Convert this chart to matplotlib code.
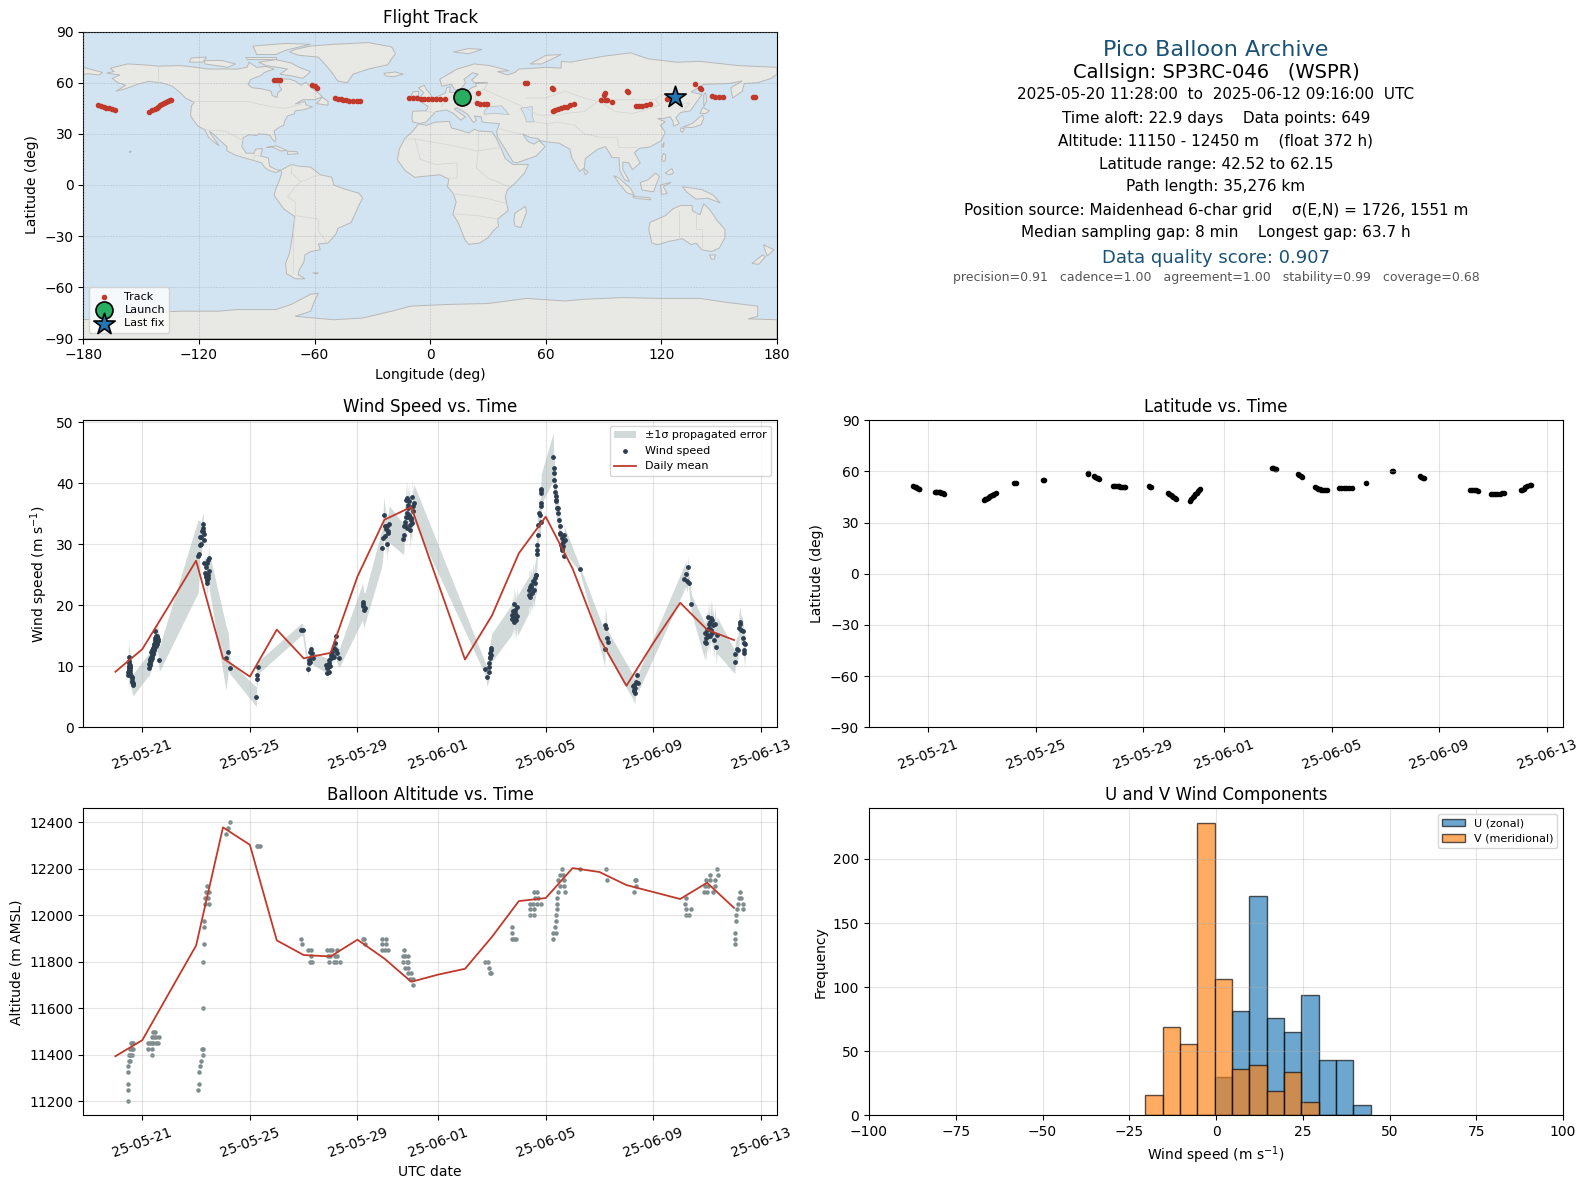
import datetime as dt

import matplotlib
matplotlib.use('Agg')
import matplotlib.dates as mdates
import matplotlib.pyplot as plt
import numpy as np

FIG_W, FIG_H = 1587, 1189

# all times are days after 2025-05-20 00:00 UTC
daily_t = list(range(24))
daily_wind = [9.1, 12.8, 20.0, 27.3, 11.3, 8.3, 16.0, 11.3, 12.2, 24.7, 34.0, 36.1,
              23.6, 11.1, 18.3, 28.5, 34.5, 26.0, 14.6, 6.8, 13.8, 20.4, 16.0, 14.3]
daily_alt = [11394, 11463, 11667, 11870, 12378, 12303, 11892, 11829, 11823, 11895, 11814, 11714,
             11745, 11770, 11907, 12061, 12074, 12203, 12186, 12130, 12100, 12070, 12140, 12032]

wind_t = [.48, .48, .49, .49, .5, .5, .51, .51, .52, .52, .53, .53, .54, .55, .56, .58, .6, .61, .62, .63, .64, .65, .66,
          1.24, 1.26, 1.27, 1.28, 1.29, 1.3, 1.31, 1.33, 1.34, 1.35, 1.36, 1.37, 1.38, 1.39, 1.4, 1.41, 1.42, 1.43, 1.44, 1.45,
          1.46, 1.47, 1.48, 1.49, 1.5, 1.51, 1.52, 1.53, 1.54, 1.55, 1.56, 1.57, 1.58, 1.63,
          3.08, 3.09, 3.14, 3.13, 3.17, 3.19, 3.22, 3.24, 3.27, 3.27, 3.28, 3.31,
          3.29, 3.33, 3.35, 3.36, 3.38, 3.39, 3.4, 3.42, 3.43, 3.44, 3.45, 3.49, 3.49,
          4.11, 4.2, 4.27, 5.24, 5.25, 5.28, 5.31, 6.9, 6.96,
          7.17, 7.2, 7.21, 7.23, 7.25, 7.27, 7.28, 7.3, 7.33,
          7.83, 7.86, 7.88, 7.9, 7.93, 7.94, 7.96, 7.98, 8.0, 8.03, 8.04, 8.07, 8.1, 8.13, 8.14, 8.16, 8.19, 8.21, 8.24, 8.32,
          9.19, 9.2, 9.22, 9.23, 9.28,
          9.9, 9.95, 9.97, 10.03, 10.04, 10.07, 10.08, 10.1, 10.12, 10.14, 10.18,
          10.71, 10.73, 10.74, 10.76, 10.78, 10.8, 10.81, 10.83, 10.84, 10.85, 10.87, 10.87, 10.89, 10.9, 10.93, 10.95, 10.96,
          10.98, 11.0, 11.02, 11.04, 11.06, 11.08, 11.1,
          13.76, 13.82, 13.88, 13.89, 13.89, 13.92, 13.93, 13.94, 13.95, 13.96, 13.98,
          14.75, 14.75, 14.77, 14.79, 14.81, 14.83, 14.85, 14.85, 14.87, 14.9, 14.93, 14.95,
          15.37, 15.38, 15.41, 15.42, 15.47, 15.47, 15.49, 15.53, 15.56, 15.59, 15.62, 15.63, 15.65,
          15.66, 15.67, 15.68, 15.7, 15.72, 15.76, 15.77, 15.81, 15.82, 15.84, 15.81, 15.81, 15.83,
          16.28, 16.29, 16.3, 16.32, 16.33, 16.35, 16.37, 16.39, 16.4, 16.41, 16.44, 16.46, 16.49, 16.52, 16.53, 16.54, 16.56,
          16.59, 16.6, 16.61, 16.62, 16.63, 16.65, 16.68, 16.69, 16.71,
          17.27, 18.2, 18.21, 18.24, 18.27, 18.3,
          19.23, 19.27, 19.28, 19.3, 19.31, 19.33, 19.36, 19.4, 19.42,
          21.13, 21.21, 21.27, 21.29, 21.33, 21.42,
          21.92, 21.93, 21.95, 21.97, 21.98, 22.02, 22.03, 22.05, 22.07, 22.08, 22.1, 22.12, 22.14, 22.15, 22.17, 22.2, 22.22,
          22.25, 22.29, 22.35, 22.37,
          23.03, 23.05, 23.1, 23.14, 23.19, 23.22, 23.24, 23.25, 23.32, 23.35, 23.38, 23.38, 23.39, 23.42]
wind_v = [9.0, 8.6, 9.8, 9.4, 11.5, 10.8, 10.0, 9.6, 10.6, 9.2, 10.2, 8.9, 9.8, 9.4, 9.9, 8.4, 8.2, 8.0, 7.6, 7.4, 7.1, 7.3, 7.0,
          10.3, 9.7, 10.9, 10.6, 11.2, 10.2, 11.6, 11.0, 12.3, 11.8, 12.6, 11.4, 13.0, 12.2, 12.8, 12.0, 13.3, 12.6, 13.6, 12.9,
          15.7, 14.3, 13.8, 14.6, 13.4, 14.1, 14.9, 13.7, 14.4, 14.8, 15.0, 14.2, 14.5, 11.1,
          28.1, 28.4, 29.9, 31.1, 31.1, 30.0, 32.2, 32.6, 33.3, 32.1, 31.7, 30.7,
          26.9, 25.2, 26.2, 25.0, 24.7, 27.0, 23.6, 24.2, 24.4, 27.4, 25.0, 27.7, 25.6,
          11.4, 12.3, 9.7, 5.0, 7.9, 8.6, 9.8, 16.0, 16.0,
          9.5, 11.0, 10.5, 12.4, 10.7, 12.8, 11.6, 12.1, 11.3,
          10.2, 9.7, 8.9, 9.9, 11.0, 9.0, 10.5, 10.1, 11.3, 11.9, 11.5, 12.4, 11.7, 13.0, 11.6, 13.8, 12.7, 14.9, 12.1, 11.3,
          20.6, 20.2, 19.8, 19.2, 19.5,
          29.3, 31.0, 34.8, 32.9, 31.3, 32.5, 33.0, 30.0, 32.1, 31.8, 33.3,
          30.8, 31.5, 32.9, 33.7, 33.2, 34.5, 37.3, 35.1, 32.6, 37.5, 35.9, 36.4, 34.5, 37.0, 34.8, 33.2, 32.3,
          34.0, 34.3, 33.4, 37.7, 36.2, 35.4, 36.8,
          9.5, 8.2, 9.1, 9.9, 10.5, 11.6, 12.1, 11.4, 12.6, 11.9, 13.0,
          17.7, 18.4, 18.0, 19.0, 17.3, 20.2, 18.7, 17.9, 19.2, 17.6, 19.7, 18.3,
          21.7, 22.5, 23.0, 21.4, 23.3, 23.0, 22.0, 23.9, 22.5, 23.6, 24.4, 24.9, 24.9,
          28.4, 29.1, 29.8, 33.2, 31.5, 35.1, 34.8, 33.7, 38.4, 36.2, 38.9, 36.7, 39.0,
          44.3, 42.5, 40.5, 41.6, 39.6, 38.6, 37.9, 37.0, 37.3, 35.9, 36.0, 35.1, 34.0, 32.9, 31.8, 31.6, 29.9,
          31.0, 29.3, 29.1, 29.6, 30.4, 29.7, 28.0, 31.5, 30.7,
          25.9, 12.8, 16.8, 16.2, 14.6, 13.9,
          6.7, 5.9, 6.1, 7.0, 5.7, 6.4, 7.5, 8.6, 7.2,
          24.3, 25.1, 23.9, 26.2, 23.6, 20.2,
          14.0, 15.4, 14.6, 13.8, 16.0, 15.2, 18.0, 15.0, 17.0, 16.3, 14.9, 17.3, 17.9, 16.0, 17.6, 15.4, 16.8,
          14.3, 17.0, 13.2, 15.1,
          10.7, 12.0, 12.9, 12.7, 16.2, 17.0, 17.3, 16.0, 15.7, 14.6, 12.6, 13.8, 12.2, 13.7]
wind_err = [3.0, 3.0, 3.0, 3.0, 3.4, 3.2, 3.0, 3.0, 3.0, 2.8, 2.8, 2.5, 2.5, 2.2, 2.2, 2.0, 2.0, 2.0, 2.0, 2.0, 1.8, 1.8, 1.8,
            1.8, 1.8, 1.8, 1.8, 1.9, 1.9, 1.9, 2.0, 2.0, 2.0, 2.0, 2.0, 2.0, 2.0, 2.0, 2.0, 2.1, 2.1, 2.1, 2.1,
            2.2, 2.2, 2.2, 2.2, 2.2, 2.2, 2.2, 2.2, 2.2, 2.2, 2.2, 2.2, 2.2, 2.0,
            6.0, 5.5, 4.0, 3.0, 2.5, 2.5, 2.2, 2.0, 2.0, 2.0, 2.0, 2.0,
            2.2, 2.2, 2.2, 2.2, 2.2, 2.2, 2.2, 2.2, 2.2, 2.5, 2.5, 2.5, 3.0,
            5.3, 3.0, 1.0, 1.6, 1.5, 1.5, 1.0, 1.0, 1.0,
            1.0, 1.5, 1.5, 1.8, 1.5, 1.8, 1.5, 1.5, 1.0,
            1.2, 1.2, 1.2, 1.2, 1.2, 1.2, 1.2, 1.2, 1.2, 1.2, 1.2, 1.2, 1.2, 1.2, 1.2, 1.5, 1.5, 2.0, 1.5, 1.5,
            3.0, 3.0, 3.0, 3.0, 2.5,
            3.0, 3.0, 3.0, 3.0, 3.0, 3.0, 3.0, 3.0, 3.0, 3.0, 3.0,
            2.5, 2.5, 2.5, 3.0, 3.0, 3.0, 3.0, 3.0, 3.0, 3.0, 3.0, 3.0, 3.0, 3.0, 3.0, 3.0, 3.0,
            3.0, 3.0, 3.0, 3.0, 3.0, 3.0, 3.0,
            1.0, 1.5, 1.5, 1.5, 1.8, 2.0, 2.0, 2.0, 2.2, 2.2, 2.3,
            2.5, 2.7, 2.7, 2.8, 2.8, 3.0, 3.0, 3.0, 3.2, 3.2, 3.3, 3.3,
            3.0, 3.0, 3.0, 3.0, 3.0, 3.0, 3.0, 3.0, 3.0, 3.0, 3.0, 3.0, 3.0,
            3.0, 3.0, 3.0, 3.0, 3.0, 3.0, 3.0, 3.0, 2.8, 2.5, 2.5, 2.5, 2.5,
            3.9, 3.5, 3.2, 3.2, 3.0, 3.0, 3.0, 2.8, 2.8, 2.5, 2.5, 2.5, 2.0, 2.0, 2.0, 2.0, 1.8,
            1.8, 1.5, 1.5, 1.5, 1.5, 1.2, 1.0, 2.5, 2.0,
            .5, 2.8, 3.0, 2.8, 2.5, 2.0,
            2.0, 2.0, 2.0, 2.0, 2.0, 2.0, 1.5, 1.5, 1.5,
            2.0, 2.0, 1.8, 2.0, 1.5, 1.5,
            3.0, 3.0, 3.0, 3.0, 3.0, 3.0, 3.0, 3.0, 3.0, 3.0, 3.0, 3.0, 3.0, 3.0, 3.0, 3.0, 3.0,
            3.0, 3.0, 3.0, 3.0,
            1.9, 1.9, 2.0, 2.0, 2.5, 2.5, 2.5, 2.5, 2.2, 2.2, 2.2, 2.2, 2.2, 2.2]

alt_t = [.62, .57, .66, .6, .66, .54, .54, .6, .52, .54, .5, .48, .48, .48, .48, .48,
         1.41, 1.48, 1.35, 1.43, 1.51, 1.62, 1.22, 1.29, 1.35, 1.41, 1.51, 1.59, 1.22, 1.37, 1.37,
         3.08, 3.12, 3.12, 3.14, 3.17, 3.22, 3.27, 3.24, 3.27, 3.27, 3.31, 3.29, 3.29,
         3.33, 3.49, 3.33, 3.45, 3.37, 3.49, 3.42,
         4.13, 4.2, 4.27, 5.26, 5.31, 5.36, 6.91, 6.95, 7.17, 7.26, 7.27, 7.23, 7.32,
         7.88, 7.98, 8.04, 8.25, 7.92, 7.98, 8.17, 8.23, 7.95, 8.12, 8.22, 8.34,
         9.19, 9.24, 9.28, 9.93, 10.05, 9.93, 10.05, 9.9, 10.02, 10.15,
         10.74, 10.7, 10.78, 10.89, 10.7, 10.83, 10.89, 10.76, 10.89, 10.89, 10.98, 10.95, 11.07, 11.07,
         13.76, 13.86, 13.9, 13.92, 13.96,
         14.75, 14.75, 14.75, 14.83, 14.91, 15.56, 15.68, 15.59, 15.72, 15.41, 15.53, 15.66, 15.84, 15.41, 15.56, 15.43, 15.56,
         16.28, 16.28, 16.38, 16.34, 16.38, 16.4, 16.42, 16.42, 16.42, 16.46, 16.71, 16.52, 16.67, 16.46, 16.67, 16.52, 16.65, 16.6,
         17.28, 18.23, 18.28, 19.31, 19.37, 19.35, 19.27,
         21.2, 21.17, 21.23, 21.41, 21.23, 21.33,
         21.96, 22.12, 22.3, 22.1, 22.4, 22.38, 21.93, 22.02, 22.3, 21.9, 21.99, 22.22,
         23.04, 23.04, 23.04, 23.09, 23.09, 23.11, 23.33, 23.15, 23.33, 23.19, 23.27, 23.21]
alt_m = [11450, 11450, 11450, 11425, 11425, 11425, 11400, 11400, 11400, 11375, 11375, 11350, 11325, 11275, 11250, 11200,
         11500, 11500, 11475, 11475, 11475, 11475, 11450, 11450, 11450, 11450, 11450, 11450, 11425, 11425, 11400,
         11250, 11275, 11325, 11350, 11375, 11425, 11425, 11400, 11600, 11800, 11875, 11950, 11975,
         12050, 12050, 12075, 12075, 12100, 12100, 12125,
         12350, 12375, 12400, 12300, 12300, 12300, 11900, 11875, 11850, 11850, 11825, 11800, 11800,
         11850, 11850, 11850, 11850, 11825, 11825, 11825, 11825, 11800, 11800, 11800, 11800,
         11900, 11900, 11875, 11900, 11900, 11875, 11875, 11850, 11850, 11850,
         11850, 11825, 11825, 11825, 11800, 11800, 11800, 11775, 11775, 11750, 11750, 11725, 11725, 11700,
         11800, 11800, 11775, 11750, 11750,
         11950, 11925, 11900, 11900, 11900, 12100, 12100, 12075, 12075, 12050, 12050, 12050, 12050, 12025, 12025, 12000, 12000,
         11900, 11925, 11925, 11950, 11975, 12000, 12025, 12050, 12075, 12100, 12100, 12125, 12125, 12150, 12150, 12175, 12175, 12200,
         12200, 12200, 12150, 12150, 12150, 12125, 12100,
         12075, 12050, 12025, 12025, 12000, 12000,
         12150, 12150, 12150, 12175, 12175, 12200, 12125, 12125, 12125, 12100, 12100, 12100,
         11875, 11900, 11925, 11975, 12000, 12025, 12025, 12050, 12050, 12075, 12075, 12100]

lat_t = [.45, .5, .55, .6, .65, .67,
         1.25, 1.3, 1.35, 1.4, 1.45, 1.5, 1.55, 1.6,
         3.07, 3.12, 3.17, 3.22, 3.27, 3.32, 3.37, 3.42, 3.47, 3.51,
         4.2, 4.26, 5.26, 5.3, 6.93, 6.96,
         7.18, 7.22, 7.27, 7.32, 7.35,
         7.88, 7.93, 8.0, 8.05, 8.1, 8.15, 8.2, 8.28, 8.33,
         9.2, 9.25, 9.27,
         9.92, 9.97, 10.02, 10.07, 10.12, 10.17, 10.2,
         10.74, 10.78, 10.83, 10.88, 10.93, 10.98, 11.03, 11.08, 11.12,
         13.78, 13.84, 13.9, 13.94,
         14.75, 14.8, 14.85, 14.9,
         15.4, 15.45, 15.5, 15.55, 15.6, 15.68, 15.76, 15.84,
         16.26, 16.35, 16.45, 16.55, 16.65, 16.75,
         17.28, 18.24, 18.27,
         19.28, 19.33, 19.38, 19.43,
         21.13, 21.2, 21.28, 21.36, 21.43,
         21.92, 22.0, 22.08, 22.16, 22.24, 22.32, 22.4,
         23.03, 23.08, 23.14, 23.2, 23.28, 23.36, 23.42]
lat_v = [51.2, 51.0, 50.7, 50.4, 50.0, 49.8,
         47.8, 47.8, 47.8, 47.7, 47.7, 47.4, 47.2, 47.0,
         43.3, 43.6, 44.0, 44.5, 45.0, 45.5, 46.0, 46.4, 47.0, 47.3,
         53.4, 53.4, 54.8, 55.1, 58.6, 58.9,
         57.2, 56.9, 56.4, 56.0, 55.7,
         51.6, 51.7, 51.6, 51.3, 51.2, 51.0, 51.0, 51.0, 51.0,
         51.6, 51.0, 50.9,
         47.5, 46.8, 46.0, 45.4, 44.8, 44.2, 44.0,
         42.9, 43.8, 44.8, 45.8, 46.6, 47.6, 48.5, 49.4, 50.0,
         62.0, 61.8, 61.6, 61.5,
         58.5, 57.9, 57.2, 56.6,
         50.8, 50.3, 49.8, 49.5, 49.3, 49.2, 49.2, 49.2,
         50.3, 50.3, 50.3, 50.3, 50.3, 50.3,
         53.4, 60.0, 60.0,
         57.2, 56.8, 56.4, 56.3,
         49.3, 49.3, 49.1, 48.9, 48.7,
         46.6, 46.6, 46.6, 46.8, 47.0, 47.1, 47.1,
         48.9, 49.4, 50.0, 50.7, 51.4, 51.9, 52.3]

track_lon = [-172.4, -171, -169.5, -168, -166.5, -165, -163.8,
             -145.8, -144.5, -143, -142, -141, -140, -139, -138, -137, -136, -135, -134.6,
             -80.9, -79.5, -77.8, -61.3, -60, -58.6,
             -49.3, -48, -46.5, -45, -43.8, -42, -40, -38, -36.2,
             -11.1, -9, -7, -5, -3, -1, 1, 3, 5, 7.5,
             25, 24.2, 26, 28, 29.7, 49.3, 50.3, 63.2, 63.6,
             63.7, 65, 66.5, 68, 69.5, 71, 72.5, 74.4,
             88.8, 90.5, 91.6, 94.3, 90, 90.6, 102.4, 102.5,
             106.7, 108.5, 110, 112, 114.3, 122.9, 137.7, 140.1, 140.8,
             146.1, 148, 150, 152, 167.6, 168.5]
track_lat = [47.1, 46.6, 46.0, 45.4, 44.9, 44.4, 43.8,
             42.8, 43.8, 44.8, 45.4, 46.0, 46.8, 47.4, 47.9, 48.4, 49.0, 49.6, 50.0,
             61.7, 61.5, 61.3, 58.8, 58.0, 57.0,
             51.0, 50.6, 50.3, 50.0, 49.8, 49.5, 49.3, 49.1, 49.0,
             51.0, 51.0, 50.8, 50.6, 50.5, 50.4, 50.4, 50.4, 50.4, 50.4,
             53.9, 48.0, 47.5, 47.3, 47.3, 59.7, 59.7, 56.9, 56.5,
             43.4, 43.9, 44.4, 45.0, 45.5, 46.0, 46.7, 47.5,
             49.8, 49.8, 49.8, 48.8, 53.0, 53.7, 55.2, 54.6,
             46.5, 46.5, 46.6, 46.8, 47.3, 50.4, 59.0, 56.9, 56.0,
             51.9, 51.6, 51.5, 51.4, 51.6, 51.5]
launch_lon, launch_lat = 16.6, 51.6
last_lon, last_lat = 127.2, 51.6

hist_edges = [-20.4, -15.4, -10.4, -5.4, -0.4, 4.6, 9.6, 14.6, 19.6, 24.6, 29.6, 34.6, 39.6, 44.6]
u_counts = [0, 0, 0, 0, 30, 81, 171, 76, 65, 94, 43, 43, 8]
v_counts = [16, 69, 56, 228, 106, 36, 39, 19, 34, 10, 0, 0, 0]

# land outlines, lon/lat
land_shapes = [
    [(-168, 65.6), (-164, 66.5), (-166, 68.5), (-157, 71), (-148, 70.4), (-141, 69.7), (-130, 70), (-125, 69.5), (-115, 68),
     (-108, 68), (-100, 68), (-95, 69), (-94, 72), (-90, 69), (-85, 69.5), (-81, 68), (-86, 66), (-88, 64), (-93, 62),
     (-94.5, 59), (-92.5, 57), (-88, 56.5), (-82.5, 55), (-82, 52.5), (-79.5, 51.3), (-79, 54), (-77, 56), (-78.5, 58.5),
     (-77.5, 60.5), (-78, 62.4), (-73, 62), (-70, 61), (-67, 58.5), (-64.5, 60.3), (-61, 56.5), (-57, 53), (-56, 51.8),
     (-60, 50), (-66, 50), (-70, 47.5), (-65, 49), (-64.5, 47), (-61, 45.8), (-66, 44), (-70, 43.5), (-70.5, 41.7), (-74, 40.5),
     (-75.5, 37.5), (-76, 35), (-78.5, 33.8), (-81, 31.5), (-80, 27), (-80.5, 25.2), (-82, 27), (-83, 29), (-85, 29.7),
     (-89, 30), (-90, 29), (-94, 29.5), (-97, 27.8), (-97.7, 22.5), (-95.5, 18.7), (-91.5, 18.5), (-90.5, 21), (-87, 21.4),
     (-88, 17), (-84, 15.8), (-83.3, 11), (-80, 9), (-77.5, 8.6), (-80, 7.3), (-83, 8.3), (-85.7, 10), (-87.5, 13), (-92, 14.5),
     (-96, 15.8), (-101, 17.5), (-105.5, 20), (-105.5, 22.5), (-109, 26), (-112.5, 30), (-114.7, 31.5), (-112, 27), (-109.5, 23),
     (-112, 25), (-115, 28), (-117, 32.5), (-120.5, 34.5), (-122.5, 37.5), (-124.3, 40.5), (-124, 46), (-122.5, 48.5), (-127, 51),
     (-130, 54.5), (-134, 58), (-139, 59.8), (-146, 60.8), (-152, 59), (-158, 56.5), (-163, 55), (-158, 58.5), (-162, 60),
     (-165, 62.5), (-161, 64.5)],
    [(-73, 78), (-68, 76), (-58, 75), (-54, 70), (-51, 66), (-48, 61), (-43, 60), (-40, 65), (-32, 68), (-22, 70.5), (-20, 74),
     (-18, 77), (-20, 81), (-32, 83.5), (-50, 82.5), (-62, 81.5), (-70, 79.5)],
    [(-80, 73.5), (-72, 71.5), (-68, 69), (-62, 66.5), (-66, 62.5), (-72, 64), (-78, 65), (-74, 68), (-85, 70), (-89, 72)],
    [(-90, 76.5), (-80, 76.5), (-75, 79), (-62, 82.5), (-75, 83), (-92, 81.5)],
    [(-117, 71), (-105, 69), (-101, 71), (-108, 73), (-117, 73)],
    [(-125, 72), (-118, 72), (-116, 75), (-124, 74.5)],
    [(-96, 75), (-80, 75), (-80, 74), (-95, 74)],
    [(-59, 47.7), (-53, 46.8), (-53, 49), (-56, 51.5)],
    [(-77.5, 8.6), (-72, 12), (-68, 11), (-62, 10.5), (-57, 6), (-51, 4.5), (-50, 0), (-44, -2.5), (-37, -4.8), (-35, -7.5),
     (-37, -12), (-39, -17), (-41, -22), (-48, -25.5), (-48.7, -28.5), (-53, -34), (-58, -34.5), (-57, -38), (-62, -39),
     (-65, -41), (-65.5, -45), (-68, -50), (-68.5, -52.5), (-65, -55), (-70, -55), (-74.5, -52), (-75, -46), (-73, -40),
     (-71.5, -30), (-70.3, -18.5), (-76, -14), (-81, -6), (-80, -2), (-78.5, 2), (-77, 7)],
    [(-6, 35.8), (-2, 35), (3, 36.9), (10, 37.3), (11, 33.5), (15, 32.3), (20, 30.5), (23, 32.7), (25, 31.6), (32, 31.2),
     (34, 28), (37, 21), (39, 15.5), (43, 12), (51, 12), (49, 7), (44, 1), (40, -3), (39, -7), (40.5, -15), (35, -20),
     (35.5, -24), (32.7, -27), (30, -31), (25.7, -34), (20, -34.8), (18, -32), (14.5, -22), (11.8, -17), (13.5, -10), (12, -5),
     (9, -1), (9.7, 3.5), (5, 6), (-4, 5), (-8, 4.5), (-13, 8.5), (-17, 14.7), (-16, 21), (-13, 27.5), (-9.5, 31)],
    [(-9, 37), (-9.5, 39), (-9, 43.3), (-2, 43.5), (-1, 46), (-4.5, 48.5), (1, 50), (4, 52), (8, 54), (8.5, 57), (10.5, 57.5),
     (10, 54.5), (14, 54), (19, 54.5), (21.5, 57), (24, 58), (23.5, 59.5), (30, 60), (23, 60), (21.5, 61.5), (25, 65), (22, 65.8),
     (17.5, 62), (18.5, 60), (16, 56.5), (13, 55.5), (11, 59), (6, 58), (5, 62), (14, 68), (23, 71), (31, 70), (41, 67), (35, 66.5),
     (40, 64.5), (44, 66), (46, 68), (54, 68.5), (60, 69), (68, 68.5), (68, 72.5), (73, 72), (75, 72.5), (80, 73.5), (90, 75.5),
     (104, 77.5), (113, 74), (128, 72), (140, 72.5), (160, 70), (170, 69.5), (180, 69), (180, 65), (177, 62.5), (170, 60), (163, 59.5),
     (162, 55), (157, 51), (156, 57), (162, 61), (155, 59.5), (142, 59), (135.5, 54.5), (141, 53), (135, 43.5), (130, 42.5),
     (127.5, 39.5), (129.3, 36), (126.3, 34.5), (126, 37.5), (124.5, 40), (121, 39), (118, 39), (122, 37), (119.5, 35), (122, 31),
     (120, 26), (114, 22.3), (108.5, 21.5), (106, 19), (109, 13), (105, 9), (103, 13), (100, 13.5), (100, 9), (103.5, 2), (101, 3),
     (98.5, 8), (98, 16), (94.5, 16), (91, 22.5), (87, 21), (80.5, 15.5), (80, 10), (77.5, 8), (73.5, 16), (72.5, 21), (67, 24.5),
     (61.5, 25.2), (57, 26), (56.5, 27), (51.5, 28), (48, 30), (50, 26.5), (51.5, 25), (54, 24), (56.5, 26), (59.7, 22.5), (55, 17),
     (45, 13), (43, 13.5), (39, 21), (35, 28), (34.5, 31.5), (36, 36), (30, 36.5), (27, 37), (26.5, 40), (23, 40.5), (24, 38),
     (22.5, 36.5), (19.5, 41.5), (14, 45.3), (12.5, 44.5), (18.3, 40), (16, 38), (12, 42), (8.5, 44), (3, 43), (0, 39.5), (-2, 37),
     (-5.5, 36)],
    [(-180, 65), (-180, 69), (-175, 67.5), (-170, 66), (-172, 64.5), (-177, 65.2)],
    [(-5.5, 50), (1, 51.2), (0, 53.5), (-2, 56), (-3, 58.5), (-6, 57), (-3.2, 54), (-5, 52)],
    [(-10, 52), (-6, 52.2), (-6, 55), (-9, 54.5)],
    [(-24, 65.5), (-18, 66.3), (-14, 65), (-19, 63.5), (-23, 64)],
    [(12, 78), (20, 80), (27, 79.5), (20, 77)],
    [(52, 71), (58, 71), (68, 76.5), (60, 76)],
    [(44, -16.5), (49.5, -12.5), (50, -16), (47, -25), (44, -24), (43.5, -21)],
    [(80, 9.5), (82, 7.5), (80.5, 6), (79.8, 8)],
    [(131, 34), (136, 36), (140, 40), (141.5, 41), (142, 39), (140.5, 35.3), (136, 33.7)],
    [(140, 42), (141.5, 45.5), (145, 43.5), (143, 42)],
    [(130, 33.5), (132, 33), (131, 31), (130, 31.5)],
    [(142, 46), (143.5, 49), (143, 54), (142, 53), (142, 49)],
    [(120.2, 23), (121.5, 25), (121, 22)],
    [(120.3, 16), (121, 18.5), (122.2, 18), (122, 14), (120.5, 14)],
    [(122, 7), (125.5, 9.7), (126.3, 7), (124, 6)],
    [(95.3, 5.5), (98, 4), (104, -2), (106, -6), (102, -4.5), (98, 1)],
    [(105, -6.5), (114, -7.5), (114.5, -8.7), (106, -7.7)],
    [(109, 1.5), (113, 3), (117, 7), (119, 5), (117.5, 1), (116, -4), (110, -3)],
    [(119.5, 0), (125, 1.5), (121, -1), (123, -5), (120, -5.5)],
    [(131, -1), (141, -2.7), (147, -6), (150.5, -10.5), (144, -7.7), (138, -8.3), (133, -4)],
    [(114, -22), (122, -18), (126, -14), (130, -12), (136, -12), (136, -15), (140, -17.5), (142, -11), (145.5, -15), (149, -21),
     (153, -26), (153, -31), (150, -37), (146, -39), (141, -38), (138, -34), (135.5, -35), (131, -31.5), (124, -33), (118, -35),
     (115, -34), (113.5, -26)],
    [(145, -41), (148, -41), (147.5, -43.5), (146, -43.5)],
    [(173, -35), (178.5, -38), (175, -41.5), (174, -39)],
    [(172.5, -41), (174, -42), (170.5, -46.5), (167, -46)],
    [(-85, 22), (-80, 23), (-74.2, 20.2), (-77.5, 20), (-82, 22.3)],
    [(-74, 19.8), (-69, 19.5), (-68.5, 18.3), (-74, 18)],
    [(-156, 20), (-155, 19.5), (-156, 19)],
    [(-61, -51.5), (-58, -51.5), (-59, -52.2)],
    [(-180, -79), (-165, -78), (-150, -75), (-130, -74), (-110, -74), (-100, -73), (-80, -73), (-72, -70), (-62, -64), (-58, -63.5),
     (-60, -68), (-62, -74), (-70, -77), (-50, -79), (-35, -78), (-20, -74), (-10, -71), (10, -70), (30, -69.5), (50, -66.5),
     (70, -68), (80, -67), (100, -66), (120, -66.5), (140, -66.5), (155, -69), (170, -71), (170, -77), (165, -78.5), (180, -79),
     (180, -90), (-180, -90)],
]
inland_seas = [
    [(28, 41.5), (33, 42), (41, 41.3), (39, 44), (37, 46.5), (33, 46), (30, 46), (28, 43)],
    [(47, 45), (53, 46), (53, 40), (54, 37), (50, 37), (49, 41)],
]
border_lines = [
    [(-123, 49), (-95, 49), (-83, 46), (-75, 45), (-67, 47.3)],
    [(-141, 69.7), (-141, 60)],
    [(-117, 32.5), (-106, 31.5), (-97, 26)],
    [(-92, 14.5), (-91, 17.5), (-88, 17)],
    [(-70, -18), (-58, -20), (-58, -27), (-54, -33)],
    [(-70, -18), (-70, -10), (-74, -7), (-70, -1), (-67, 2), (-60, 5), (-57, 6)],
    [(-70, -18), (-71, -30), (-71, -52)],
    [(-72, 12), (-72, 7), (-67, 2)],
    [(-13, 27), (-8, 27), (12, 23), (24, 20), (37, 22)],
    [(25, 31), (25, 20), (24, 10), (30, 4), (41, -1)],
    [(-8, 27), (-5, 15), (3, 12), (14, 13), (14, 4), (9, 4)],
    [(12, -5), (30, -8), (40, -11)],
    [(12, -17), (25, -18), (35, -20)],
    [(-2, 43), (3, 42.5)],
    [(6, 46), (7, 49), (6, 51)],
    [(14, 54), (15, 51), (13, 48), (17, 48), (23, 48), (24, 54), (28, 56), (30, 60)],
    [(30, 46), (23, 48)],
    [(28, 56), (40, 50), (48, 46)],
    [(50, 51), (60, 51), (70, 55), (80, 51), (87, 49), (98, 50), (107, 50), (117, 50), (120, 53), (130, 48), (135, 48), (131, 43)],
    [(75, 35), (80, 30), (88, 28), (97, 28), (98, 22), (102, 22), (107, 22)],
    [(88, 49), (96, 43), (105, 42), (112, 44), (119, 47), (117, 50)],
    [(50, 45), (56, 41), (67, 41), (70, 42), (80, 43), (87, 49)],
    [(36, 33), (46, 30), (48, 30)],
    [(61, 25), (61, 36), (66, 37), (75, 35)],
    [(61, 36), (54, 37)],
    [(129, -15), (129, -31.5)],
    [(138, -16), (138, -26), (141, -26), (141, -38)],
]

info_lines = [
    ('Pico Balloon Archive', 16, '#1a5276', 50.5),
    ('Callsign: SP3RC-046   (WSPR)', 14, 'black', 73),
    ('2025-05-20 11:28:00  to  2025-06-12 09:16:00  UTC', 11, 'black', 94.5),
    ('Time aloft: 22.9 days    Data points: 649', 11, 'black', 118),
    ('Altitude: 11150 - 12450 m    (float 372 h)', 11, 'black', 141),
    ('Latitude range: 42.52 to 62.15', 11, 'black', 164),
    ('Path length: 35,276 km', 11, 'black', 187),
    ('Position source: Maidenhead 6-char grid    σ(E,N) = 1726, 1551 m', 11, 'black', 210),
    ('Median sampling gap: 8 min    Longest gap: 63.7 h', 11, 'black', 233),
    ('Data quality score: 0.907', 13, '#1a5276', 258),
    ('precision=0.91   cadence=1.00   agreement=1.00   stability=0.99   coverage=0.68', 9, '#555555', 278),
]

RED = '#c0392b'
DARK = '#2c3e50'
GREY = '#7f8c8d'
start_day = mdates.date2num(dt.datetime(2025, 5, 20))


def make_axes(fig, left, top, right, bottom):
    return fig.add_axes([left / FIG_W, 1 - bottom / FIG_H, (right - left) / FIG_W, (bottom - top) / FIG_H])


def to_dates(days):
    return start_day + np.array(days, dtype=float)


def setup_time_axis(ax):
    ax.set_xlim(start_day - 1.194, start_day + 24.6)
    ax.xaxis.set_major_locator(mdates.DayLocator(bymonthday=[1, 5, 9, 13, 17, 21, 25, 29]))
    ax.xaxis.set_major_formatter(mdates.DateFormatter('%y-%m-%d'))
    ax.tick_params(axis='x', labelrotation=20)
    ax.grid(True, alpha=0.35)


fig = plt.figure(figsize=(FIG_W / 100, FIG_H / 100), dpi=100)

# map
ax_map = make_axes(fig, 83.3, 31.5, 777, 338.5)
ax_map.set_facecolor('#d2e4f1')
for shape in land_shapes:
    ax_map.fill(*zip(*shape), facecolor='#e8e8e4', edgecolor='#b8b8b8', linewidth=0.7, zorder=1)
for shape in inland_seas:
    ax_map.fill(*zip(*shape), facecolor='#d2e4f1', edgecolor='#b8b8b8', linewidth=0.5, zorder=1.1)
for line in border_lines:
    ax_map.plot(*zip(*line), color='#d6d6d2', linewidth=0.6, zorder=1.2)
ax_map.grid(True, color='#9aa5ad', linestyle='--', linewidth=0.4, alpha=0.6, zorder=1.5)
ax_map.set_axisbelow(False)
ax_map.scatter(track_lon, track_lat, s=9, color=RED, zorder=3, label='Track')
ax_map.scatter([launch_lon], [launch_lat], s=150, color='#27ae60', edgecolor='black', linewidth=1.2, zorder=4, label='Launch')
ax_map.scatter([last_lon], [last_lat], s=260, marker='*', color='#1f77b4', edgecolor='black', linewidth=1.2, zorder=5, label='Last fix')
ax_map.set_xlim(-180, 180)
ax_map.set_ylim(-90, 90)
ax_map.set_xticks(np.arange(-180, 181, 60))
ax_map.set_yticks(np.arange(-90, 91, 30))
ax_map.set_xlabel('Longitude (deg)')
ax_map.set_ylabel('Latitude (deg)')
ax_map.set_title('Flight Track')
ax_map.legend(loc='lower left', fontsize=8, labelspacing=0.3)

# summary text
for text, size, color, y_px in info_lines:
    fig.text(1216 / FIG_W, 1 - y_px / FIG_H, text, fontsize=size, color=color, ha='center', va='center')

# wind speed
ax_wind = make_axes(fig, 83.3, 420.3, 777, 727.3)
wind_t_arr = np.array(wind_t)
wind_v_arr = np.array(wind_v)
wind_err_arr = np.array(wind_err)
ax_wind.fill_between(to_dates(wind_t), wind_v_arr - wind_err_arr, wind_v_arr + wind_err_arr, color='#95a5a6', alpha=0.42,
                     linewidth=0, label='±1σ propagated error')
ax_wind.scatter(to_dates(wind_t), wind_v, s=6, color=DARK, label='Wind speed', zorder=3)
ax_wind.plot(to_dates(daily_t), daily_wind, color=RED, linewidth=1.3, label='Daily mean', zorder=4)
ax_wind.set_ylim(0, 50.3)
ax_wind.set_ylabel('Wind speed (m s$^{-1}$)')
ax_wind.set_title('Wind Speed vs. Time')
setup_time_axis(ax_wind)
ax_wind.legend(loc='upper right', fontsize=8)

# latitude
ax_lat = make_axes(fig, 869, 420.3, 1563, 727.3)
ax_lat.scatter(to_dates(lat_t), lat_v, s=9, color='black')
ax_lat.set_ylim(-90, 90)
ax_lat.set_yticks(np.arange(-90, 91, 30))
ax_lat.set_ylabel('Latitude (deg)')
ax_lat.set_title('Latitude vs. Time')
setup_time_axis(ax_lat)

# altitude
ax_alt = make_axes(fig, 83.3, 808.3, 777, 1115.3)
ax_alt.scatter(to_dates(alt_t), alt_m, s=5, color=GREY)
ax_alt.plot(to_dates(daily_t), daily_alt, color=RED, linewidth=1.3, zorder=4)
ax_alt.set_ylim(11140, 12460)
ax_alt.set_xlabel('UTC date')
ax_alt.set_ylabel('Altitude (m AMSL)')
ax_alt.set_title('Balloon Altitude vs. Time')
setup_time_axis(ax_alt)

# histogram
ax_hist = make_axes(fig, 869, 808.3, 1563, 1115.3)
bin_left = np.array(hist_edges[:-1])
bin_width = np.diff(hist_edges)
ax_hist.bar(bin_left, u_counts, width=bin_width, align='edge', color='#1f77b4', alpha=0.65, edgecolor='black', label='U (zonal)')
ax_hist.bar(bin_left, v_counts, width=bin_width, align='edge', color='#ff7f0e', alpha=0.65, edgecolor='black', label='V (meridional)')
ax_hist.set_xlim(-100, 100)
ax_hist.set_ylim(0, 239.5)
ax_hist.set_xlabel('Wind speed (m s$^{-1}$)')
ax_hist.set_ylabel('Frequency')
ax_hist.set_title('U and V Wind Components')
ax_hist.grid(True, alpha=0.35)
ax_hist.legend(loc='upper right', fontsize=8)

fig.savefig('out.png', dpi=100)
